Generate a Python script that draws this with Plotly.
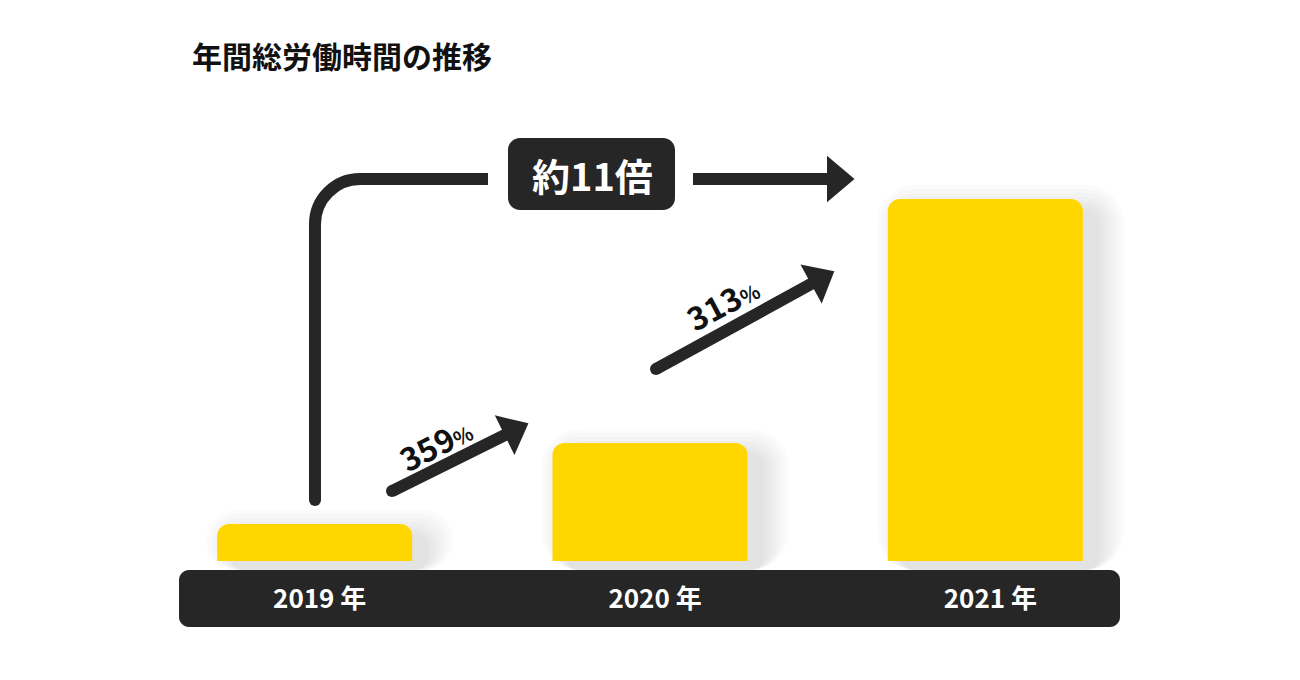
import math
import plotly.graph_objects as go

WHITE = "#ffffff"
YELLOW = "#ffd600"
DARK = "#262626"
FONT = "Noto Sans CJK JP"

TITLE = "年間総労働時間の推移"
YEARS = ["2019 年", "2020 年", "2021 年"]
HOURS = [37, 118, 362]          # relative heights
GROWTH = ["359", "313"]         # year-on-year, %
TOTAL = "約11倍"

PAGE = 8                        # body margin of the html page
W, H = 1300 - PAGE, 680 - PAGE
L, R, T, B = 147 - PAGE, 147, 160 - PAGE, 110
PW, PH = W - L - R, H - T - B
Y_MIN = -9
Y_MAX = Y_MIN + PH              # one y unit == one pixel
X_UNIT = PW / 3
BAR_PX = 195
LINE_W = 12


def P(x, y):
    # page pixel position -> paper coords
    x, y = x - PAGE, y - PAGE
    return (x - L) / PW, (H - B - y) / PH


def pathStr(cmds):
    out = []
    for cmd, pts in cmds:
        out.append(cmd + " ".join("%.5f,%.5f" % P(x, y) for x, y in pts))
    return " ".join(out)


def roundRect(x0, y0, x1, y1, r, color, layer="above"):
    k = 0.5523 * r
    cmds = [
        ("M", [(x0 + r, y0)]),
        ("L", [(x1 - r, y0)]),
        ("C", [(x1 - r + k, y0), (x1, y0 + r - k), (x1, y0 + r)]),
        ("L", [(x1, y1 - r)]),
        ("C", [(x1, y1 - r + k), (x1 - r + k, y1), (x1 - r, y1)]),
        ("L", [(x0 + r, y1)]),
        ("C", [(x0 + r - k, y1), (x0, y1 - r + k), (x0, y1 - r)]),
        ("L", [(x0, y0 + r)]),
        ("C", [(x0, y0 + r - k), (x0 + r - k, y0), (x0 + r, y0)]),
        ("Z", []),
    ]
    return dict(type="path", xref="paper", yref="paper", path=pathStr(cmds),
                fillcolor=color, line=dict(width=0), layer=layer)


def dot(x, y, r):
    ax, ay = P(x - r, y + r)
    bx, by = P(x + r, y - r)
    return dict(type="circle", xref="paper", yref="paper", x0=ax, y0=ay, x1=bx, y1=by,
                fillcolor=DARK, line=dict(width=0))


def stroke(cmds):
    return dict(type="path", xref="paper", yref="paper", path=pathStr(cmds),
                fillcolor="rgba(0,0,0,0)", line=dict(color=DARK, width=LINE_W))


def arrow(x0, y0, x1, y1, head_len=24, head_half=20, cap=True):
    d = math.hypot(x1 - x0, y1 - y0)
    ux, uy = (x1 - x0) / d, (y1 - y0) / d
    nx, ny = -uy, ux
    bx, by = x1 - ux * head_len, y1 - uy * head_len
    shapes = [stroke([("M", [(x0, y0)]), ("L", [(bx + ux * 3, by + uy * 3)])])]
    head = [("M", [(x1, y1)]),
            ("L", [(bx + nx * head_half, by + ny * head_half)]),
            ("L", [(bx - nx * head_half, by - ny * head_half)]),
            ("Z", [])]
    shapes.append(dict(type="path", xref="paper", yref="paper", path=pathStr(head),
                       fillcolor=DARK, line=dict(color=DARK, width=2)))
    if cap:
        shapes.append(dot(x0, y0, LINE_W / 2))
    return shapes


fig = go.Figure()

# soft drop shadow, mostly to the right and below each bar
bw = BAR_PX / X_UNIT
for s in (2, 6, 10, 14, 18, 22, 26):
    w = (BAR_PX + 2 * s) / X_UNIT
    fig.add_trace(go.Bar(
        x=YEARS, y=[h - 12 + s - Y_MIN for h in HOURS], base=Y_MIN,
        width=w, offset=-w / 2 + 15 / X_UNIT,
        marker=dict(color="rgba(0,0,0,0.015)", line=dict(width=0), cornerradius=12 + s),
        hoverinfo="skip", showlegend=False,
    ))

fig.add_trace(go.Bar(
    x=YEARS, y=HOURS, width=bw,
    marker=dict(color=YELLOW, line=dict(width=0), cornerradius=12),
    hoverinfo="skip", showlegend=False,
))

shapes = [roundRect(179, 570, 1120, 627, 10, DARK, layer="below")]

# big bracket arrow 2019 -> 2021
rad = 45
k = 0.5523 * rad
shapes.append(stroke([
    ("M", [(315, 500)]),
    ("L", [(315, 179 + rad)]),
    ("C", [(315, 179 + rad - k), (315 + rad - k, 179), (315 + rad, 179)]),
    ("L", [(488, 179)]),
]))
shapes.append(dot(315, 500, LINE_W / 2))
shapes += arrow(693, 179, 853, 179, head_len=25, head_half=21, cap=False)
shapes.append(roundRect(508, 138, 675, 210, 12, DARK))

# step arrows
shapes += arrow(392, 491, 527, 424)
shapes += arrow(656, 369, 833, 272)

annotations = [
    dict(text="<b>%s</b>" % TOTAL, x=P(592, 174)[0], y=P(592, 174)[1],
         xref="paper", yref="paper", showarrow=False, xanchor="center", yanchor="middle",
         font=dict(family=FONT, size=38, color=WHITE)),
]
for g, (cx, cy), ang in zip(GROWTH, [(435, 443), (722, 302)], [-27, -28]):
    annotations.append(dict(
        text="<b>%s<span style='font-size:20px'>%%</span></b>" % g,
        x=P(cx, cy)[0], y=P(cx, cy)[1], xref="paper", yref="paper",
        showarrow=False, xanchor="center", yanchor="middle", textangle=ang,
        font=dict(family=FONT, size=32, color="#111111"),
    ))

fig.update_layout(
    width=W, height=H,
    margin=dict(l=L, r=R, t=T, b=B, pad=0),
    paper_bgcolor=WHITE, plot_bgcolor=WHITE,
    barmode="overlay",
    hovermode=False,
    title=dict(text="<b>%s</b>" % TITLE, x=(192 - PAGE) / W, xref="container", xanchor="left",
               y=1 - (57 - PAGE) / H, yref="container", yanchor="middle",
               font=dict(family=FONT, size=30, color="#111111")),
    xaxis=dict(type="category", range=[-0.5, 2.5], showgrid=False, showline=False,
               zeroline=False, ticks="", ticklabelstandoff=11, ticklabelshift=5,
               tickfont=dict(family=FONT, size=26, color=WHITE, weight="bold")),
    yaxis=dict(range=[Y_MIN, Y_MAX], visible=False),
    shapes=shapes,
    annotations=annotations,
)

fig.write_html("out.html")
